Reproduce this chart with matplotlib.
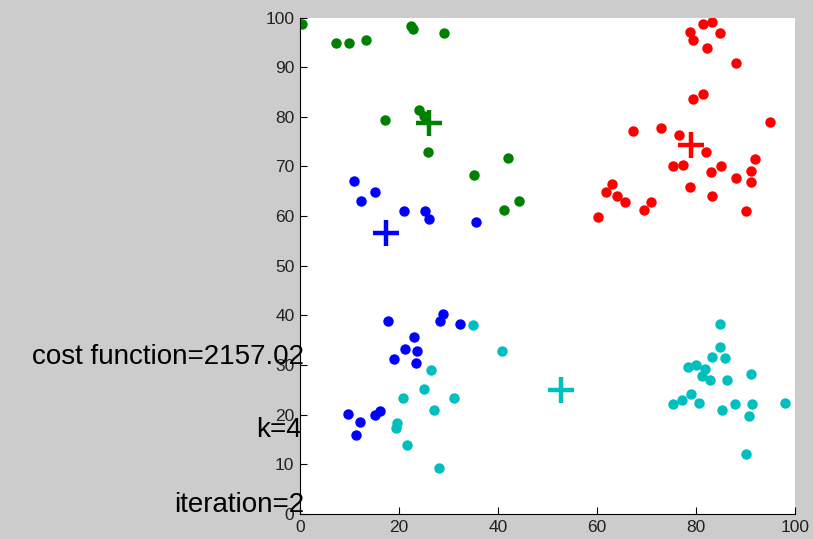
import matplotlib.pyplot as plt
import numpy as np

# cluster points
green_x = [0.5, 7.3, 9.9, 13.3, 22.5, 22.9, 29.1, 17.1, 24.1, 25.0, 25.8, 35.2, 42.1, 41.2, 44.2]
green_y = [98.7, 94.8, 94.8, 95.4, 98.4, 97.7, 96.9, 79.3, 81.3, 80.2, 73.0, 68.2, 71.8, 61.3, 63.1]

blue_x = [10.9, 12.3, 15.1, 21.1, 25.2, 26.0, 35.6,
          17.7, 28.9, 28.3, 32.3, 23.1, 21.3, 23.6, 19.0, 23.5, 9.7, 12.1, 11.3, 15.1, 16.2]
blue_y = [67.0, 63.1, 64.9, 61.1, 61.1, 59.5, 58.9,
          38.9, 40.3, 38.8, 38.3, 35.6, 33.2, 32.9, 31.2, 30.5, 20.1, 18.5, 15.9, 19.9, 20.8]

red_x = [81.4, 83.2, 78.7, 79.4, 84.8, 82.3, 88.1, 81.4, 79.3, 94.9, 67.3, 73.0, 76.6, 82.0,
         91.9, 75.4, 77.3, 85.0, 83.0, 88.1, 91.0, 91.0, 78.7, 83.2, 90.1, 63.1, 61.9, 64.1,
         65.6, 70.9, 69.5, 60.1]
red_y = [98.8, 99.1, 97.0, 95.4, 96.9, 93.9, 90.9, 84.6, 83.5, 79.0, 77.2, 77.8, 76.3, 72.9,
         71.5, 70.0, 70.4, 70.0, 68.8, 67.6, 69.0, 66.9, 65.8, 64.0, 61.1, 66.5, 64.9, 64.1,
         62.8, 62.8, 61.3, 59.8]

cyan_x = [34.9, 40.9, 26.5, 25.0, 20.8, 31.2, 27.1, 19.6, 19.3, 21.6, 28.0,
          84.8, 84.8, 83.2, 85.9, 78.3, 79.9, 81.7, 81.1, 82.9, 86.2, 91.0, 79.0, 77.2,
          75.4, 80.6, 87.9, 91.2, 85.2, 90.6, 97.9, 90.1]
cyan_y = [38.0, 32.9, 29.0, 25.1, 23.3, 23.3, 20.9, 18.3, 17.4, 13.8, 9.2,
          38.3, 33.7, 31.7, 31.4, 29.6, 30.0, 29.3, 27.8, 27.0, 26.9, 28.1, 24.2, 23.0,
          22.1, 22.4, 22.1, 22.1, 20.9, 19.8, 22.4, 12.0]

# centroids
cent_x = [26.0, 17.4, 78.9, 52.8]
cent_y = [78.8, 56.6, 74.3, 25.0]
cent_colors = ["#008000", "#0000ff", "#ff0000", "#00bfbf"]

cost = 2157.02
k = 4
iteration = 2

plt.rcParams["font.family"] = ["Liberation Sans", "DejaVu Sans"]

fig = plt.figure(figsize=(8.13, 5.39), dpi=100, facecolor="#cccccc")
ax = fig.add_axes([0.369, 0.0464, 0.609, 0.921])

groups = [(green_x, green_y, "#008000"), (blue_x, blue_y, "#0000ff"),
          (red_x, red_y, "#ff0000"), (cyan_x, cyan_y, "#00bfbf")]
for xs, ys, c in groups:
    ax.plot(xs, ys, "o", color=c, markersize=7.5, markeredgewidth=0)

for cx, cy, c in zip(cent_x, cent_y, cent_colors):
    ax.plot(cx, cy, "+", color=c, markersize=19, markeredgewidth=3.2)

ax.set_xlim(0, 100)
ax.set_ylim(0, 100)
ax.set_xticks(np.arange(0, 101, 20))
ax.set_yticks(np.arange(0, 101, 10))
ax.tick_params(direction="in", length=5, labelsize=12.5, colors="black", pad=4)
for lbl in ax.get_xticklabels() + ax.get_yticklabels():
    lbl.set_color("#222222")
ax.spines["top"].set_visible(False)
ax.spines["right"].set_visible(False)

ax.text(0.8, 31.6, f"cost function={cost:.2f}", ha="right", va="center", fontsize=20)
ax.text(0.4, 16.9, f"k={k}", ha="right", va="center", fontsize=20)
ax.text(0.8, 1.8, f"iteration={iteration}", ha="right", va="center", fontsize=20)

fig.savefig("out.png", dpi=100, facecolor=fig.get_facecolor())
